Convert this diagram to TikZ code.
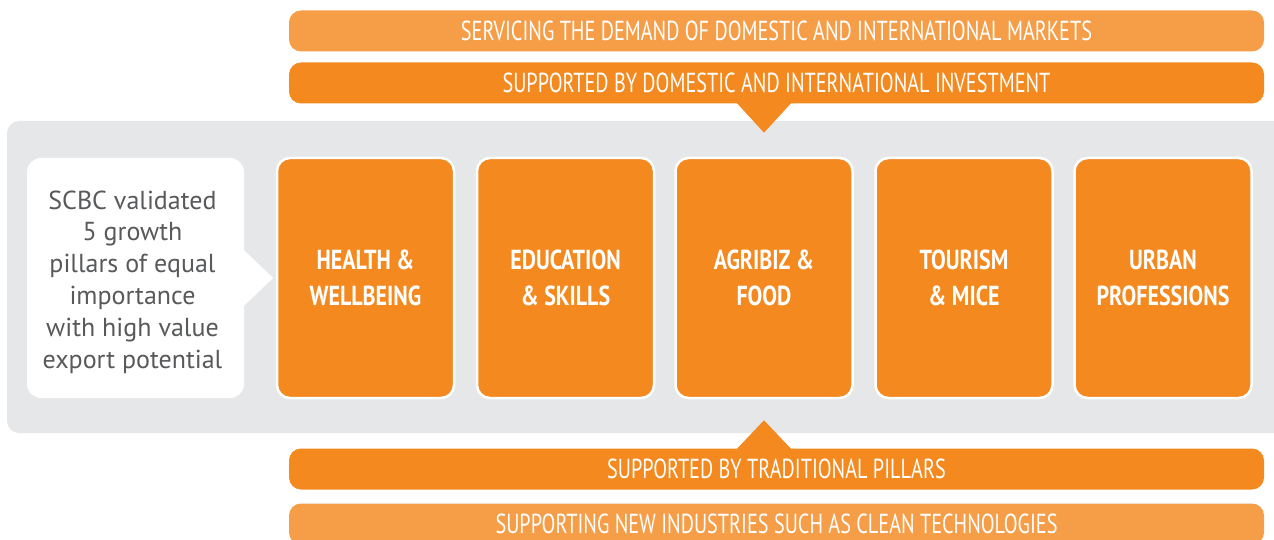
\documentclass[tikz,border=0pt]{standalone}
\usepackage{fontspec}
\setmainfont{PT Sans}
\newfontfamily\condfont[FakeStretch=0.735]{PT Sans}
\newfontfamily\condbold[FakeStretch=0.80,BoldFont={PT Sans Bold}]{PT Sans Bold}
\usetikzlibrary{calc}
\definecolor{orangeA}{HTML}{F3891F}
\definecolor{orangeB}{HTML}{F69D48}
\definecolor{panelgray}{HTML}{E6E7E8}
\definecolor{textgray}{HTML}{58595B}
\begin{document}
\begin{tikzpicture}[x=1pt,y=-1pt,
  banner/.style={rounded corners=12pt, minimum width=975pt, minimum height=41pt,
    inner sep=0pt, text=white, font=\condfont\fontsize{27.5}{30}\selectfont},
  pillar/.style={rounded corners=13pt, fill=orangeA, draw=white, line width=2.5pt,
    minimum width=177pt, minimum height=240pt, inner sep=0pt, text=white,
    align=center, font=\condbold\fontsize{27.5}{36}\selectfont},
  callout/.style={rounded corners=14pt, fill=white, minimum width=217pt,
    minimum height=240pt, inner sep=0pt, text=textgray, align=center,
    font=\fontsize{26}{31.8}\selectfont},
  pointer/.style={fill=orangeA}
]
\useasboundingbox (0,0) rectangle (1274,540);

% grey panel behind the pillars
\fill[panelgray, rounded corners=12pt] (7,121) rectangle (1286,433);

% banners above and below the panel
\node[banner, fill=orangeB] (b1) at (776.5,31) {SERVICING THE DEMAND OF DOMESTIC AND INTERNATIONAL MARKETS};
\node[banner, fill=orangeA] (b2) at (776.5,83) {SUPPORTED BY DOMESTIC AND INTERNATIONAL INVESTMENT};
\node[banner, fill=orangeA] (b3) at (776.5,469) {SUPPORTED BY TRADITIONAL PILLARS};
\node[banner, fill=orangeB] (b4) at (776.5,524) {SUPPORTING NEW INDUSTRIES SUCH AS CLEAN TECHNOLOGIES};

% callout on the left
\node[callout] (call) at (135.5,278) {};
\node[text=textgray, align=center, inner sep=0pt, font=\fontsize{26}{31.8}\selectfont]
  (calltext) at ($(call.center)+(-3,4)$) {SCBC validated\\5 growth\\pillars of equal\\importance\\with high value\\export potential};
\fill[white] ($(call.east)+(-1,-28.5)$) -- ($(call.east)+(29,0)$) -- ($(call.east)+(-1,28.5)$) -- cycle;

% the five pillars
\node[pillar] (p1) at (365.5,278) {HEALTH \&\\WELLBEING};
\node[pillar] (p2) at (565.5,278) {EDUCATION\\\& SKILLS};
\node[pillar] (p3) at (764,278) {AGRIBIZ \&\\FOOD};
\node[pillar] (p4) at (964,278) {TOURISM\\\& MICE};
\node[pillar] (p5) at (1163,278) {URBAN\\PROFESSIONS};

% pointers from the investment and traditional banners
\fill[pointer] ($(p3.north |- b2.south)+(-27.5,-1)$) -- ($(p3.north |- b2.south)+(27.5,-1)$) -- ($(p3.north |- b2.south)+(0,29)$) -- cycle;
\fill[pointer] ($(p3.south |- b3.north)+(-27.5,1)$) -- ($(p3.south |- b3.north)+(27.5,1)$) -- ($(p3.south |- b3.north)+(0,-28)$) -- cycle;
\end{tikzpicture}
\end{document}
